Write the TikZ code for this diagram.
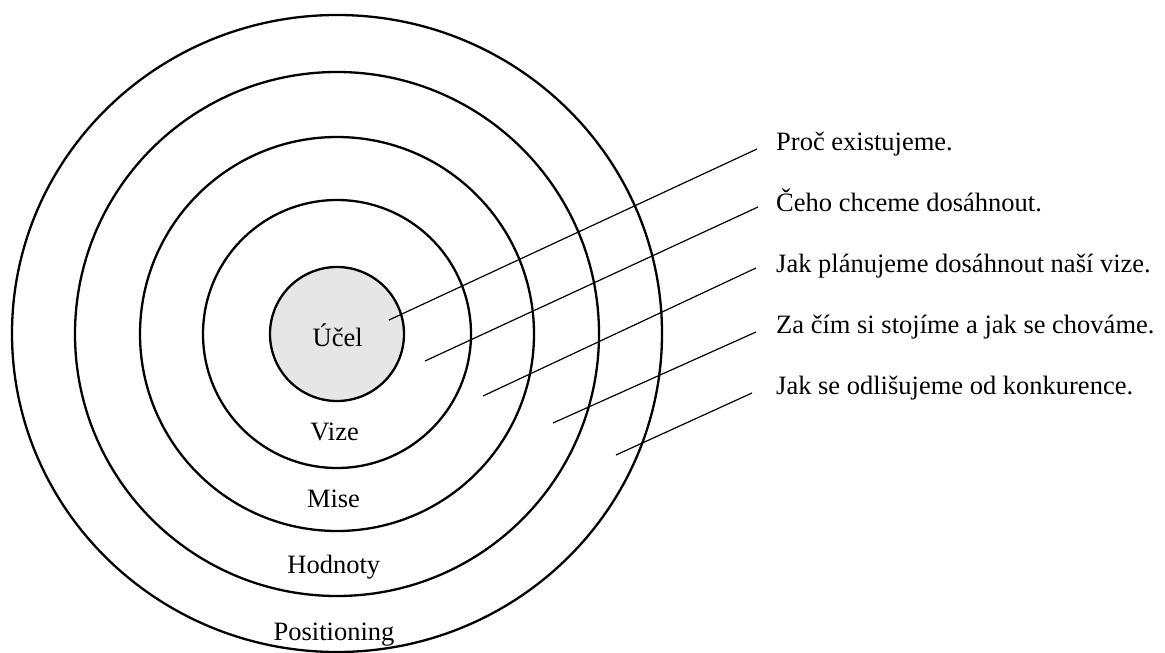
\documentclass[tikz,border=0pt]{standalone}
\usepackage{fontspec}
\setmainfont{Liberation Serif}
\begin{document}
\begin{tikzpicture}[x=1pt,y=-1pt,
  ring/.style={draw,line width=2.3pt},
  leader/.style={draw,line width=1.2pt},
  ringlabel/.style={anchor=base,inner sep=0pt,font=\fontsize{26.5}{30}\selectfont},
  note/.style={anchor=base west,inner sep=3pt,font=\fontsize{26.5}{30}\selectfont}]
\useasboundingbox (0,0) rectangle (1165,653);
\coordinate (mid) at (337,334);
% rings
\path[ring] (337,333.5) ellipse [x radius=325pt, y radius=318.5pt];
\path[ring] (mid) circle [radius=262pt];
\path[ring] (mid) circle [radius=197pt];
\path[ring] (mid) circle [radius=134pt];
\path[ring,fill={rgb,255:red,230;green,230;blue,230}] (mid) circle [radius=67pt];
% ring names
\path (337.7,346) node[ringlabel] (ucel) {Účel};
\path (334.6,440) node[ringlabel] (vize) {Vize};
\path (333.5,507) node[ringlabel] (mise) {Mise};
\path (333.8,573) node[ringlabel] (hodnoty) {Hodnoty};
\path (334,640) node[ringlabel] (pos) {Positioning};
% notes
\path (773,150.5) node[note] (n1) {Proč existujeme.};
\path (773,211.5) node[note] (n2) {Čeho chceme dosáhnout.};
\path (773,272.5) node[note] (n3) {Jak plánujeme dosáhnout naší vize.};
\path (773,333.5) node[note] (n4) {Za čím si stojíme a jak se chováme.};
\path (773,394.5) node[note] (n5) {Jak se odlišujeme od konkurence.};
% leader ends inside the rings
\coordinate (p1) at (389,320);
\coordinate (p2) at (425,361);
\coordinate (p3) at (483,396);
\coordinate (p4) at (553,423);
\coordinate (p5) at (616,455);
\path[leader] (p1) -- ([shift={(-16,-1.5)}]n1.base west);
\path[leader] (p2) -- ([shift={(-15,-4.5)}]n2.base west);
\path[leader] (p3) -- ([shift={(-17,-4.5)}]n3.base west);
\path[leader] (p4) -- ([shift={(-17,-1.5)}]n4.base west);
\path[leader] (p5) -- ([shift={(-21,-1.5)}]n5.base west);
\end{tikzpicture}
\end{document}
